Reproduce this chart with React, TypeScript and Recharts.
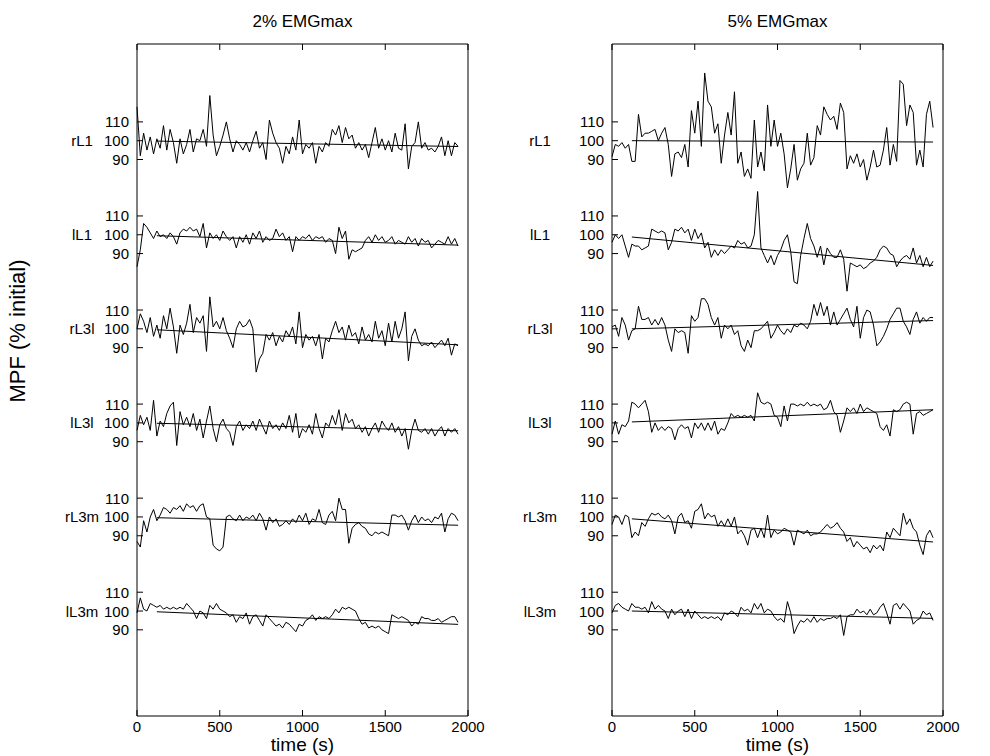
import React from 'react';
import { LineChart, Line, XAxis, YAxis } from 'recharts';

// ---------- data ----------
const TIMES = [
  0, 20, 40, 60, 80, 100, 120, 140, 160, 180, 200, 220, 240, 260, 280, 300, 320, 340, 360, 380,
  400, 420, 440, 460, 480, 500, 520, 540, 560, 580, 600, 620, 640, 660, 680, 700, 720, 740, 760, 780,
  800, 820, 840, 860, 880, 900, 920, 940, 960, 980, 1000, 1020, 1040, 1060, 1080, 1100, 1120, 1140, 1160, 1180,
  1200, 1220, 1240, 1260, 1280, 1300, 1320, 1340, 1360, 1380, 1400, 1420, 1440, 1460, 1480, 1500, 1520, 1540, 1560, 1580,
  1600, 1620, 1640, 1660, 1680, 1700, 1720, 1740, 1760, 1780, 1800, 1820, 1840, 1860, 1880, 1900, 1920, 1940,
];

const TRACE_NAMES = ['rL1', 'lL1', 'rL3l', 'lL3l', 'rL3m', 'lL3m'];
const Y_TICK_VALUES = [90, 100, 110];
const X_TICKS = [0, 500, 1000, 1500, 2000];
const TRACE_SPACING = 50;
const Y_DOMAIN: [number, number] = [44.2, 401.4];
const X_DOMAIN: [number, number] = [0, 2000];
const FIT_T0 = 120;
const FIT_T1 = 1940;

// 2% EMGmax
const P2_rL1 = [118,92,104,95,102,93,101,96,108,95,106,99,88,101,93,98,106,94,101,100,106,97,124,103,92,97,103,110,101,94,100,98,95,99,94,100,105,96,99,90,111,104,99,96,88,97,93,102,95,111,93,98,96,99,88,97,94,99,97,106,103,108,99,107,101,103,96,99,95,98,91,99,107,96,101,95,100,94,104,96,95,109,85,97,99,110,96,99,95,96,94,97,102,92,100,92,99,97];
const P2_lL1 = [83,92,106,104,101,98,102,99,100,98,101,99,95,101,103,102,104,102,103,99,106,93,101,98,100,97,102,99,97,99,93,99,96,100,95,101,98,102,96,99,97,98,103,99,101,97,99,91,99,97,99,98,100,97,99,98,99,96,98,97,90,104,98,102,87,92,91,92,93,97,99,96,100,97,99,96,97,99,95,97,96,95,99,96,98,94,98,96,97,93,95,97,96,95,99,95,98,94];
const P2_rL3l = [100,108,104,98,106,96,102,95,107,100,111,101,87,102,97,103,113,98,106,103,107,88,117,101,104,100,106,99,95,90,100,104,101,102,105,100,77,84,87,97,94,98,91,96,93,99,96,101,92,109,90,97,94,96,91,97,84,95,93,99,104,98,101,94,102,96,98,92,101,94,97,93,104,95,99,91,103,93,104,95,100,109,83,96,100,94,91,92,91,93,90,92,94,91,95,86,92,91];
const P2_lL3l = [96,104,99,103,96,112,93,101,98,105,109,111,88,106,99,103,98,105,96,102,92,101,109,97,90,99,102,97,95,88,98,101,96,99,97,101,96,102,98,94,101,97,99,96,100,97,104,95,105,92,97,95,99,94,105,97,92,100,98,104,99,107,96,105,100,102,97,99,95,98,93,97,100,95,101,98,96,100,95,98,93,97,86,96,102,96,95,97,94,97,93,96,98,93,97,95,97,94];
const P2_rL3m = [87,84,98,92,100,104,98,101,105,104,102,105,104,106,103,107,105,106,103,106,107,100,99,85,83,82,84,100,101,99,98,101,98,100,99,101,98,102,99,93,100,97,99,95,96,98,96,99,97,101,98,102,96,99,98,104,97,96,101,103,98,110,104,104,86,94,96,97,95,94,91,90,92,91,92,91,90,101,101,100,101,98,93,98,101,97,100,98,99,97,100,99,102,92,99,102,101,98];
const P2_lL3m = [99,107,101,100,104,103,102,103,101,102,101,102,101,102,101,104,102,100,96,100,99,96,103,101,104,101,100,99,97,98,94,97,96,99,93,97,98,95,92,98,96,94,92,93,91,94,93,91,89,93,92,95,96,98,95,97,96,97,96,98,101,99,102,101,102,101,100,96,93,94,91,92,91,92,90,89,88,98,97,96,97,96,95,92,94,93,97,96,96,95,95,96,94,95,96,97,97,94];
const P2_FIT_START = [99.8, 99.5, 99.5, 99.8, 99.6, 99.6];
const P2_FIT_END = [96.9, 94.5, 91.5, 95.8, 95.6, 92.9];

// 5% EMGmax
const P5_rL1 = [91.5,98,97,99,96,98,89,89,114,102,104,104,105,106,100,104,107,98,81,93,94,91,98,86,116,104,121,97,136,121,118,104,109,88,103,115,103,126,88,94,81,85,80,111,86,94,84,119,97,111,97,104,93,75,85,98,79,85,88,104,87,91,108,103,118,114,111,113,106,120,115,85,92,88,93,86,90,79,86,95,86,87,95,107,87,98,89,132,130,108,119,115,87,95,86,114,121,107];
const P5_lL1 = [96,100,98,100,94,88,95,94,94,92,93,94,103,102,101,102,101,92,96,103,102,104,101,103,97,103,98,101,93,96,88,92,89,92,90,92,94,93,97,95,96,93,94,100,123,93,89,85,89,84,89,92,97,100,91,75,74,89,98,106,98,94,88,94,84,93,90,88,88,92,87,70,85,84,83,84,82,83,85,86,88,92,94,93,90,89,83,86,88,89,87,93,85,89,83,88,83,86];
const P5_rL3l = [101,102,96,106,102,94,99,100,112,105,105,106,102,105,102,106,102,94,88,100,98,99,98,87,107,104,106,116,116,113,106,102,106,95,102,100,102,97,99,91,88,94,90,99,99,100,102,104,95,98,102,99,97,100,98,102,101,103,102,100,104,113,107,114,107,112,102,109,102,105,108,111,105,101,112,95,106,110,109,102,91,93,96,100,105,108,111,111,104,101,97,105,109,103,106,104,106,106];
const P5_lL3l = [94,101,94,99,98,101,111,110,108,110,112,106,95,100,96,98,96,98,97,91,97,99,97,98,92,100,97,100,96,100,96,101,94,97,96,100,105,103,104,103,104,103,104,101,116,111,110,111,110,104,103,98,109,101,110,110,109,110,109,111,109,110,109,110,107,108,112,106,104,95,101,108,106,108,105,110,106,108,107,106,105,98,96,99,93,107,106,107,110,111,110,94,105,106,104,105,106,107];
const P5_rL3m = [96,101,100,96,101,100,89,92,90,97,95,99,102,101,102,100,99,101,98,91,100,102,97,98,94,103,104,107,99,102,100,101,95,98,95,99,95,100,91,93,90,85,93,94,89,94,89,101,89,93,91,92,94,93,92,85,93,92,91,93,90,91,91,92,94,96,94,95,97,94,92,87,89,84,87,85,83,84,81,85,83,85,82,92,89,94,92,90,102,96,99,94,92,85,80,90,93,89];
const P5_lL3m = [99,103,104,102,101,100,104,102,102,101,102,99,105,101,103,101,100,96,101,98,100,101,97,101,96,100,98,96,97,96,97,96,97,95,99,98,100,99,97,102,100,101,99,104,101,104,99,101,100,97,95,96,94,105,99,88,92,95,94,96,94,97,94,96,95,96,96,97,96,98,87,97,98,98,101,99,100,98,101,98,99,102,104,99,93,103,104,101,104,102,100,93,95,96,100,98,99,95];
const P5_FIT_START = [100, 98.8, 100, 100.5, 99, 100];
const P5_FIT_END = [99.3, 83.7, 104.4, 107, 86.7, 96.1];

// ---------- styling ----------
const FONT = '"Liberation Sans", Arial, Helvetica, sans-serif';
const TICK_LEN = 6;
const Y_TICK_MARGIN = 8;
const X_TICK_MARGIN = 5;
const TICK_FONT = 15;

type PanelProps = {
  series: number[][];
  fitStart: number[];
  fitEnd: number[];
  nameDx: number;
};

function Panel({ series, fitStart, fitEnd, nameDx }: PanelProps) {
  const n = TRACE_NAMES.length;
  const offsets = TRACE_NAMES.map((_, k) => (n - 1 - k) * TRACE_SPACING);
  const rows = TIMES.map((t, i) => {
    const r: Record<string, number> = { t };
    TRACE_NAMES.forEach((nm, k) => {
      r[nm] = series[k][i] + offsets[k];
    });
    return r;
  });
  const fits = TRACE_NAMES.map((_, k) => [
    { t: FIT_T0, v: fitStart[k] + offsets[k] },
    { t: FIT_T1, v: fitEnd[k] + offsets[k] },
  ]);
  const yTicks: number[] = [];
  const tickInfo = new Map<number, { label: string; name: string | null }>();
  offsets.forEach((o, k) => {
    Y_TICK_VALUES.forEach((v) => {
      yTicks.push(v + o);
      tickInfo.set(v + o, { label: String(v), name: v === 100 ? TRACE_NAMES[k] : null });
    });
  });
  yTicks.sort((a, b) => a - b);

  const leftTick = (p: any) => {
    const { x, y, payload } = p;
    const info = tickInfo.get(payload.value);
    const ax = x + Y_TICK_MARGIN;
    return (
      <g>
        <line x1={ax} x2={ax + TICK_LEN} y1={y} y2={y} stroke="#000" strokeWidth={1} />
        <text x={x} y={y} textAnchor="end" dominantBaseline="central" fontSize={TICK_FONT} fontFamily={FONT} fill="#000">
          {info ? info.label : ''}
        </text>
        {info && info.name ? (
          <text x={ax + nameDx} y={y} textAnchor="middle" dominantBaseline="central" fontSize={TICK_FONT} fontFamily={FONT} fill="#000">
            {info.name}
          </text>
        ) : null}
      </g>
    );
  };
  const rightTick = (p: any) => {
    const { x, y } = p;
    return <line x1={x - TICK_LEN} x2={x} y1={y} y2={y} stroke="#000" strokeWidth={1} />;
  };
  const bottomTick = (p: any) => {
    const { x, y, payload } = p;
    const ay = y - X_TICK_MARGIN;
    return (
      <g>
        <line x1={x} x2={x} y1={ay} y2={ay - TICK_LEN} stroke="#000" strokeWidth={1} />
        <text x={x} y={y} dy="0.71em" textAnchor="middle" fontSize={TICK_FONT} fontFamily={FONT} fill="#000">
          {payload.value}
        </text>
      </g>
    );
  };
  const topTick = (p: any) => {
    const { x, y } = p;
    return <line x1={x} x2={x} y1={y} y2={y + TICK_LEN} stroke="#000" strokeWidth={1} />;
  };

  return (
    <LineChart width={500} height={756} data={rows} margin={{ top: 43, right: 31, bottom: 0, left: 0 }}>
      <XAxis
        xAxisId="b"
        dataKey="t"
        type="number"
        domain={X_DOMAIN}
        ticks={X_TICKS}
        interval={0}
        height={40}
        tickSize={0}
        tickMargin={X_TICK_MARGIN}
        tickLine={false}
        axisLine={{ stroke: '#000', strokeWidth: 1 }}
        tick={bottomTick}
      />
      <XAxis
        xAxisId="top"
        orientation="top"
        dataKey="t"
        type="number"
        domain={X_DOMAIN}
        ticks={X_TICKS}
        interval={0}
        height={1}
        tickSize={0}
        tickMargin={0}
        tickLine={false}
        axisLine={{ stroke: '#000', strokeWidth: 1 }}
        tick={topTick}
      />
      <YAxis
        yAxisId="l"
        type="number"
        domain={Y_DOMAIN}
        ticks={yTicks}
        interval={0}
        width={137}
        tickSize={0}
        tickMargin={Y_TICK_MARGIN}
        tickLine={false}
        axisLine={{ stroke: '#000', strokeWidth: 1 }}
        tick={leftTick}
      />
      <YAxis
        yAxisId="r"
        orientation="right"
        type="number"
        domain={Y_DOMAIN}
        ticks={yTicks}
        interval={0}
        width={1}
        tickSize={0}
        tickMargin={0}
        tickLine={false}
        axisLine={{ stroke: '#000', strokeWidth: 1 }}
        tick={rightTick}
      />
      {TRACE_NAMES.map((nm) => (
        <Line
          key={nm}
          xAxisId="b"
          yAxisId="l"
          type="linear"
          dataKey={nm}
          stroke="#000"
          strokeWidth={1}
          dot={false}
          activeDot={false}
          isAnimationActive={false}
        />
      ))}
      {fits.map((f, k) => (
        <Line
          key={'fit' + k}
          data={f}
          xAxisId="b"
          yAxisId="l"
          type="linear"
          dataKey="v"
          stroke="#000"
          strokeWidth={1}
          dot={false}
          activeDot={false}
          isAnimationActive={false}
        />
      ))}
    </LineChart>
  );
}

export default function App() {
  const textBox = (cx: number, cy: number, size: number): React.CSSProperties => ({
    position: 'absolute',
    left: cx - 120,
    top: cy - 12,
    width: 240,
    height: 24,
    lineHeight: '24px',
    textAlign: 'center',
    fontSize: size,
    fontFamily: FONT,
    color: '#000',
    whiteSpace: 'nowrap',
  });
  return (
    <div style={{ position: 'absolute', left: 0, top: 0, width: 990, height: 756, background: '#fff', overflow: 'hidden' }}>
      <div style={{ position: 'absolute', left: 0, top: 0 }}>
        <Panel
          series={[P2_rL1, P2_lL1, P2_rL3l, P2_lL3l, P2_rL3m, P2_lL3m]}
          fitStart={P2_FIT_START}
          fitEnd={P2_FIT_END}
          nameDx={-55}
        />
      </div>
      <div style={{ position: 'absolute', left: 475, top: 0 }}>
        <Panel
          series={[P5_rL1, P5_lL1, P5_rL3l, P5_lL3l, P5_rL3m, P5_lL3m]}
          fitStart={P5_FIT_START}
          fitEnd={P5_FIT_END}
          nameDx={-72}
        />
      </div>
      <div style={textBox(302.5, 22, 17)}>2% EMGmax</div>
      <div style={textBox(777.5, 22, 17)}>5% EMGmax</div>
      <div style={textBox(302.5, 745, 19)}>time (s)</div>
      <div style={textBox(777.5, 745, 19)}>time (s)</div>
      <div style={{ ...textBox(18, 331, 22), transform: 'rotate(-90deg)' }}>MPF (% initial)</div>
    </div>
  );
}
